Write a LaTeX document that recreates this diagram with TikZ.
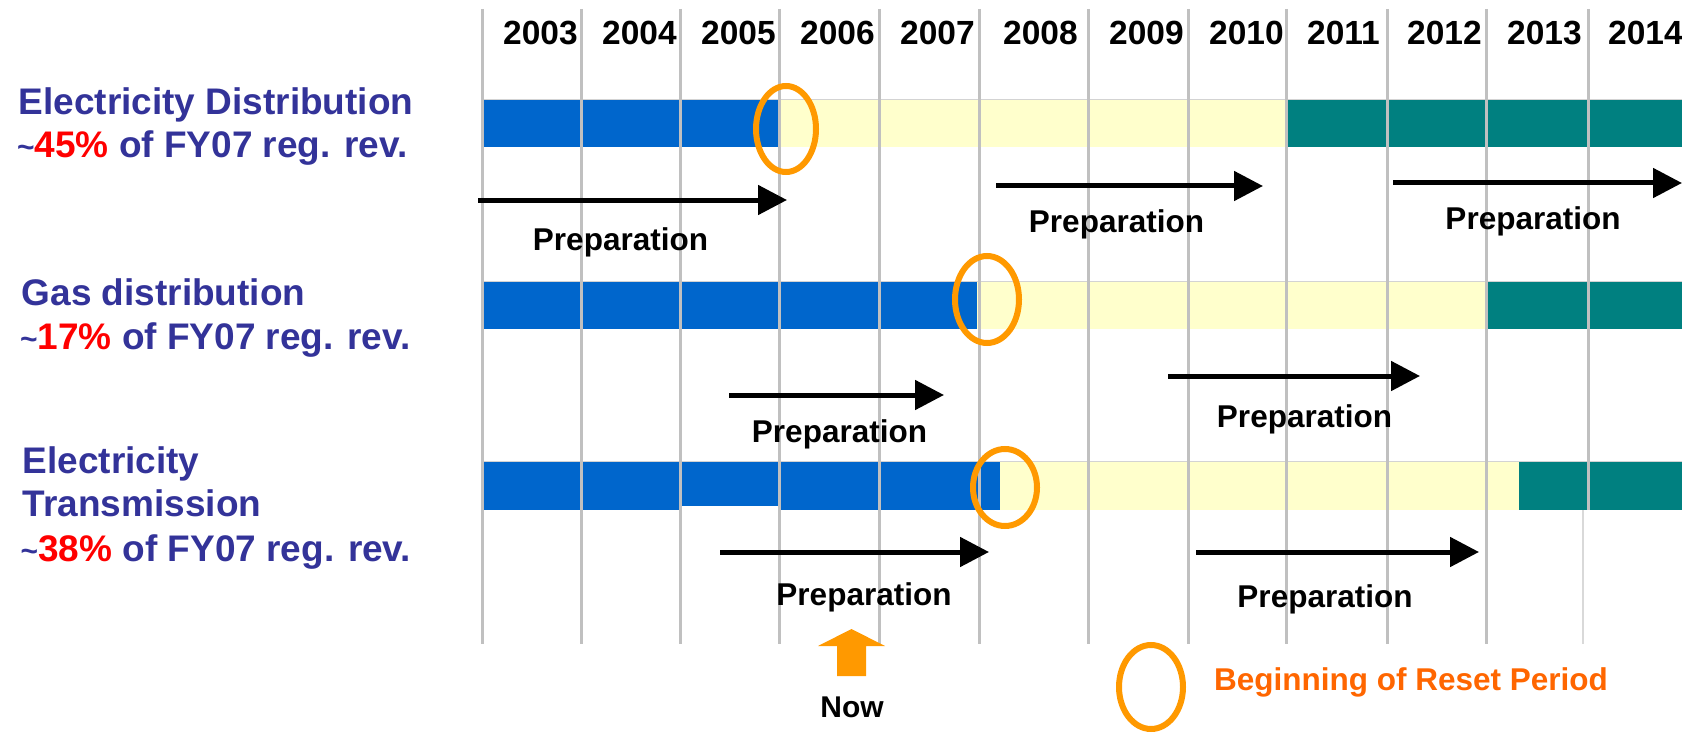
\documentclass[tikz,border=0pt]{standalone}
\usepackage{fontspec}
\setmainfont{Liberation Sans}
\usetikzlibrary{arrows.meta}
\definecolor{barblue}{RGB}{0,102,204}
\definecolor{baryellow}{RGB}{255,255,204}
\definecolor{barteal}{RGB}{0,128,128}
\definecolor{ringorange}{RGB}{255,153,0}
\definecolor{textorange}{RGB}{255,102,0}
\definecolor{lblblue}{RGB}{51,51,153}
\definecolor{pctred}{RGB}{255,0,0}
\definecolor{gridgray}{RGB}{192,192,192}
\newcommand{\lbltilde}{{\fontsize{30}{30}\selectfont\textasciitilde}}
\newcommand{\pct}[1]{\textcolor{pctred}{#1}}

\begin{document}
\begin{tikzpicture}[x=1pt,y=-1pt,
    rowlbl/.style={anchor=base west,inner sep=0pt,text=lblblue,font=\fontsize{37}{44}\selectfont\bfseries},
    yearlbl/.style={anchor=base west,inner sep=0pt,font=\fontsize{33.5}{40}\selectfont\bfseries},
    preplbl/.style={anchor=base,inner sep=0pt,font=\fontsize{31.5}{38}\selectfont\bfseries},
    prep/.style={line width=5pt,-{Triangle[length=29pt,width=29pt]}},
    ring/.style={ringorange,line width=6pt},
    gridline/.style={gridgray,line width=3pt}]
      \useasboundingbox (0,0) rectangle (1682,733);
      \fill[barblue]   ( 482,100) rectangle ( 779,147);
      \fill[baryellow] ( 779,100) rectangle (1286,147);
      \fill[barteal]   (1286,100) rectangle (1682,147);
      \fill[barblue]   ( 482,281) rectangle ( 977,329);
      \fill[baryellow] ( 977,281) rectangle (1485,329);
      \fill[barteal]   (1485,281) rectangle (1682,329);
      \fill[barblue]   ( 482,461) rectangle ( 680,510);
      \fill[barblue]   ( 680,461) rectangle ( 779,506);
      \fill[barblue]   ( 779,461) rectangle (1000,510);
      \fill[baryellow] (1000,461) rectangle (1519,510);
      \fill[barteal]   (1519,461) rectangle (1682,510);
      \draw[gridgray!70,line width=1pt] (482,100) -- (1682,100);
      \draw[gridgray!70,line width=1pt] (482,281) -- (1682,281);
      \draw[gridgray!70,line width=1pt] (482,461) -- (1682,461);
      \foreach \gx in {482,581,680,779,879,979,1088,1188,1286,1387,1486}
        \draw[gridline] (\gx,9) -- (\gx,644);
      \draw[gridline] (1588,9) -- (1588,510);
      \draw[gridgray!60,line width=2pt] (1583,510) -- (1583,644);
      \foreach \gx/\yr in {482/2003,581/2004,680/2005,779/2006,879/2007,982/2008,
                           1088/2009,1188/2010,1286/2011,1386/2012,1486/2013,1587/2014}
        \node[yearlbl] (y\yr) at (\gx+21,45) {\yr};
      \node[rowlbl] (ed1) at (18.5,115) {Electricity Distribution};
      \node[rowlbl] (ed2) at (17,158) {\lbltilde\pct{45\%} of FY07 reg. rev.};
      \node[rowlbl] (gd1) at (21.5,305) {Gas distribution};
      \node[rowlbl] (gd2) at (20,349) {\lbltilde\pct{17\%} of FY07 reg. rev.};
      \node[rowlbl] (et1) at (22.5,473) {Electricity};
      \node[rowlbl] (et2) at (22.5,516) {Transmission};
      \node[rowlbl] (et3) at (20.5,561) {\lbltilde\pct{38\%} of FY07 reg. rev.};
      \draw[prep] ( 478,200) -- ( 787,200);
      \draw[prep] ( 996,186) -- (1263,186);
      \draw[prep] (1393,183) -- (1682,183);
      \draw[prep] ( 729,395) -- ( 944,395);
      \draw[prep] (1168,376) -- (1420,376);
      \draw[prep] ( 720,552) -- ( 989,552);
      \draw[prep] (1196,552) -- (1479,552);
      \node[preplbl] (p1a) at ( 620.5,250) {Preparation};
      \node[preplbl] (p1b) at (1116.5,233) {Preparation};
      \node[preplbl] (p1c) at (1533,229) {Preparation};
      \node[preplbl] (p2a) at ( 839.5,442) {Preparation};
      \node[preplbl] (p2b) at (1304.5,427) {Preparation};
      \node[preplbl] (p3a) at ( 864,605) {Preparation};
      \node[preplbl] (p3b) at (1325,607) {Preparation};
      \draw[ring] ( 786,129)   ellipse [x radius=30pt,y radius=43pt];
      \draw[ring] ( 987,299.5) ellipse [x radius=32pt,y radius=43.5pt];
      \draw[ring] (1005,487.5) ellipse [x radius=32pt,y radius=38.5pt];
      \draw[ring] (1151,687)   ellipse [x radius=32pt,y radius=42pt];
      \fill[ringorange] (837,676) -- (837,646) -- (818,646) -- (851.5,629)
                        -- (885,646) -- (866,646) -- (866,676) -- cycle;
      \node[anchor=base,inner sep=0pt,font=\fontsize{30}{36}\selectfont\bfseries] (now) at (852,717) {Now};
      \node[anchor=base west,inner sep=0pt,text=textorange,font=\fontsize{31.5}{38}\selectfont\bfseries]
        (reset) at (1214,690) {Beginning of Reset Period};
     \end{tikzpicture}
\end{document}
